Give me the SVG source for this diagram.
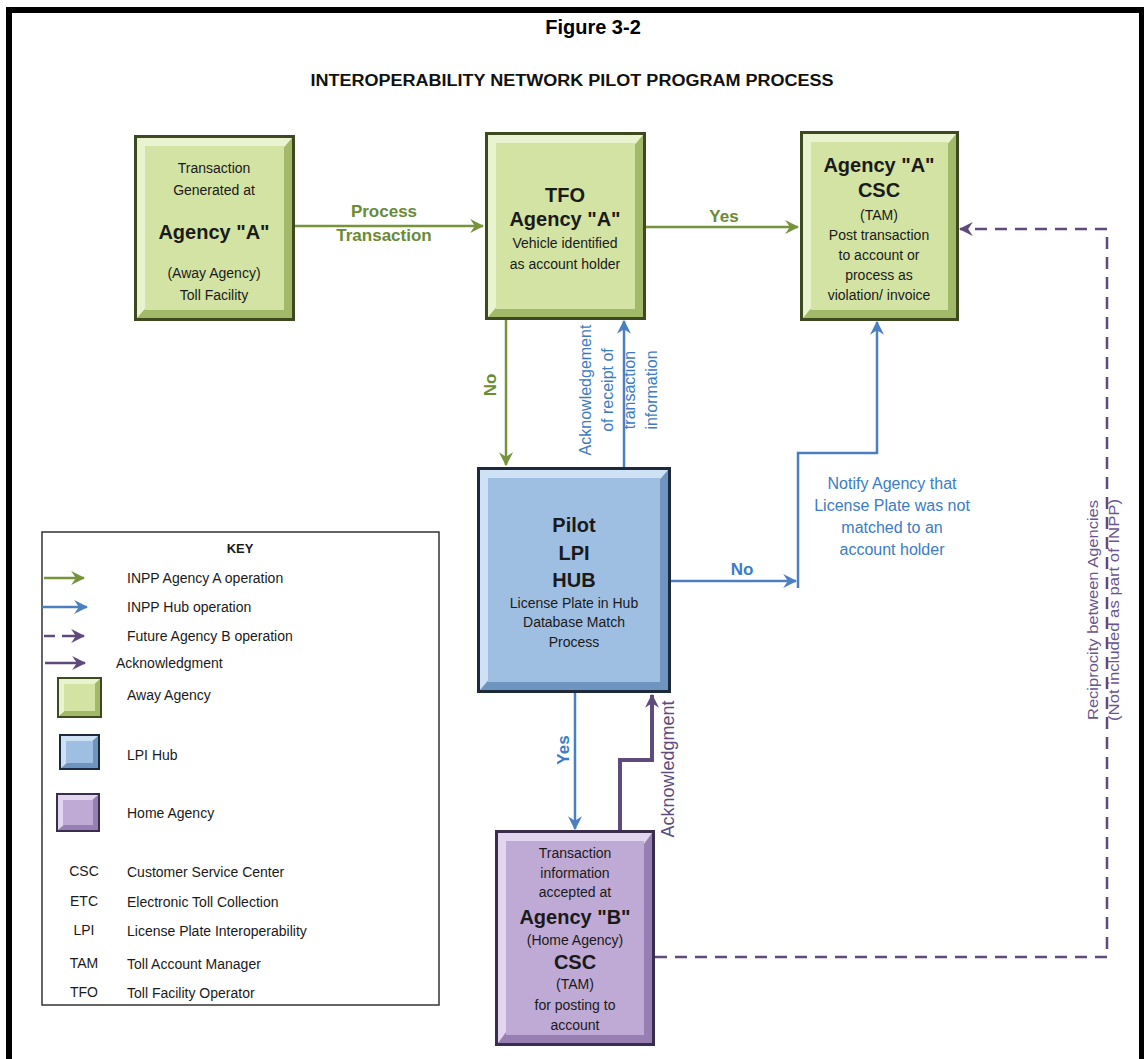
<svg xmlns="http://www.w3.org/2000/svg" width="1144" height="1059" viewBox="0 0 1144 1059">
<defs>
<style>
text{font-family:"Liberation Sans",Arial,sans-serif;}
.t{font-size:14px;fill:#1a1a1a;text-anchor:middle;}
.b{font-size:20px;font-weight:bold;fill:#1a1a1a;text-anchor:middle;}
.k{font-size:14px;fill:#1a1a1a;}
.ka{font-size:14px;fill:#1a1a1a;text-anchor:middle;}
.gl{font-size:17px;font-weight:bold;fill:#6a8a34;text-anchor:middle;}
.bl{font-size:16px;fill:#3b7cc4;text-anchor:middle;}
.blb{font-size:17px;font-weight:bold;fill:#3b7cc4;text-anchor:middle;}
.pl{font-size:18px;fill:#5e4a7e;text-anchor:middle;}
.pr{font-size:15px;fill:#6a5590;text-anchor:middle;}
.green{stroke:#77933c;stroke-width:2.5;fill:none;}
.blue{stroke:#4a80c0;stroke-width:2.5;fill:none;}
.purple{stroke:#604a7b;stroke-width:4;fill:none;}
.dash{stroke:#604a7b;stroke-width:2.5;fill:none;stroke-dasharray:12 8;}
.gO{fill:#3d4a1f;} .gL{fill:#eaf3cf;} .gD{fill:#a3b96a;} .gF{fill:#d3e3a3;}
.bO{fill:#1c2a3c;} .bL{fill:#cfe1f4;} .bD{fill:#6e94c0;} .bF{fill:#9ebfe2;}
.pO{fill:#3b2d4c;} .pL{fill:#e2d6ee;} .pD{fill:#977fb3;} .pF{fill:#bfa9d5;}
</style>
<marker id="ag" viewBox="0 0 12 12" refX="11" refY="6" markerWidth="14" markerHeight="14" markerUnits="userSpaceOnUse" orient="auto"><path d="M0,0 L12,6 L0,12 L4,6 Z" fill="#77933c"/></marker>
<marker id="ab" viewBox="0 0 12 12" refX="11" refY="6" markerWidth="14" markerHeight="14" markerUnits="userSpaceOnUse" orient="auto"><path d="M0,0 L12,6 L0,12 L4,6 Z" fill="#4a80c0"/></marker>
<marker id="ap" viewBox="0 0 12 12" refX="11" refY="6" markerWidth="14" markerHeight="14" markerUnits="userSpaceOnUse" orient="auto"><path d="M0,0 L12,6 L0,12 L4,6 Z" fill="#604a7b"/></marker>
</defs>

<rect x="0" y="0" width="1144" height="1059" fill="#ffffff"/>
<rect x="9" y="10" width="1133" height="1070" fill="none" stroke="#000" stroke-width="6"/>

<text x="593" y="34" style="font-size:20px;font-weight:bold;text-anchor:middle;fill:#000">Figure 3-2</text>
<text x="572" y="86" textLength="523" lengthAdjust="spacingAndGlyphs" style="font-size:16px;font-weight:bold;text-anchor:middle;fill:#111">INTEROPERABILITY NETWORK PILOT PROGRAM PROCESS</text>

<g id="connectors">
<path class="green" d="M294,226 H483" marker-end="url(#ag)"/>
<path class="green" d="M646,227 H798" marker-end="url(#ag)"/>
<path class="green" d="M506,320 V465" marker-end="url(#ag)"/>
<path class="blue" d="M624,467 V321" marker-end="url(#ab)"/>
<path class="blue" d="M671,581 H796" marker-end="url(#ab)"/>
<path class="blue" d="M798,588 V453 H877 V322" marker-end="url(#ab)"/>
<path class="blue" d="M575,693 V829" marker-end="url(#ab)"/>
<path class="purple" d="M620,830 V760 H652 V695" marker-end="url(#ap)"/>
<path class="dash" d="M655,957 H1107 V229 H960" marker-end="url(#ap)"/>

<text class="gl" x="384" y="217">Process</text>
<text class="gl" x="384" y="241">Transaction</text>
<text class="gl" x="724" y="222">Yes</text>
<text class="gl" transform="translate(490,385) rotate(-90)" dy="6">No</text>
<g transform="translate(618,390) rotate(-90)">
<text class="bl" x="0" y="-27">Acknowledgement</text>
<text class="bl" x="0" y="-5">of receipt of</text>
<text class="bl" x="0" y="17">transaction</text>
<text class="bl" x="0" y="39">information</text>
</g>
<text class="blb" x="742" y="575">No</text>
<text class="bl" x="892" y="489">Notify Agency that</text>
<text class="bl" x="892" y="511">License Plate was not</text>
<text class="bl" x="892" y="533">matched to an</text>
<text class="bl" x="892" y="555">account holder</text>
<text class="blb" transform="translate(563,750) rotate(-90)" dy="6">Yes</text>
<text class="pl" transform="translate(668,769) rotate(-90)" dy="6">Acknowledgment</text>
<g transform="translate(1104,610) rotate(-90)">
<text class="pr" x="0" y="-6" textLength="220" lengthAdjust="spacingAndGlyphs">Reciprocity between Agencies</text>
<text class="pr" x="0" y="15" textLength="222" lengthAdjust="spacingAndGlyphs">(Not included as part of INPP)</text>
</g>
</g>

<g id="node-transaction-generated">
<rect class="gO" x="134" y="135" width="161" height="186"/>
<rect class="gL" x="137" y="138" width="155" height="180"/>
<polygon class="gD" points="137,318 292,318 292,138"/>
<rect class="gF" x="145" y="146" width="139" height="164"/>
<text class="t" x="214" y="173">Transaction</text>
<text class="t" x="214" y="195">Generated at</text>
<text class="b" x="214" y="239">Agency "A"</text>
<text class="t" x="214" y="278">(Away Agency)</text>
<text class="t" x="214" y="300">Toll Facility</text>
</g>

<g id="node-tfo">
<rect class="gO" x="485" y="132" width="161" height="188"/>
<rect class="gL" x="488" y="135" width="155" height="182"/>
<polygon class="gD" points="488,317 643,317 643,135"/>
<rect class="gF" x="496" y="143" width="139" height="166"/>
<text class="b" x="565" y="202">TFO</text>
<text class="b" x="565" y="226">Agency "A"</text>
<text class="t" x="565" y="248">Vehicle identified</text>
<text class="t" x="565" y="269">as account holder</text>
</g>

<g id="node-csc-a">
<rect class="gO" x="800" y="131" width="159" height="190"/>
<rect class="gL" x="803" y="134" width="153" height="184"/>
<polygon class="gD" points="803,318 956,318 956,134"/>
<rect class="gF" x="811" y="142" width="137" height="168"/>
<text class="b" x="879" y="172">Agency "A"</text>
<text class="b" x="879" y="197">CSC</text>
<text class="t" x="879" y="220">(TAM)</text>
<text class="t" x="879" y="240">Post transaction</text>
<text class="t" x="879" y="260">to account or</text>
<text class="t" x="879" y="280">process as</text>
<text class="t" x="879" y="300">violation/ invoice</text>
</g>

<g id="node-hub">
<rect class="bO" x="477" y="467" width="194" height="226"/>
<rect class="bL" x="480" y="470" width="188" height="220"/>
<polygon class="bD" points="480,690 668,690 668,470"/>
<rect class="bF" x="488" y="478" width="172" height="204"/>
<text class="b" x="574" y="532">Pilot</text>
<text class="b" x="574" y="560">LPI</text>
<text class="b" x="574" y="587">HUB</text>
<text class="t" x="574" y="608">License Plate in Hub</text>
<text class="t" x="574" y="627">Database Match</text>
<text class="t" x="574" y="647">Process</text>
</g>

<g id="node-agency-b">
<rect class="pO" x="495" y="830" width="160" height="216"/>
<rect class="pL" x="498" y="833" width="154" height="210"/>
<polygon class="pD" points="498,1043 652,1043 652,833"/>
<rect class="pF" x="506" y="841" width="138" height="194"/>
<text class="t" x="575" y="858">Transaction</text>
<text class="t" x="575" y="878">information</text>
<text class="t" x="575" y="897">accepted at</text>
<text class="b" x="575" y="924">Agency "B"</text>
<text class="t" x="575" y="945">(Home Agency)</text>
<text class="b" x="575" y="969">CSC</text>
<text class="t" x="575" y="989">(TAM)</text>
<text class="t" x="575" y="1010">for posting to</text>
<text class="t" x="575" y="1030">account</text>
</g>

<g id="key">
<rect x="42" y="532" width="397" height="473" fill="#fff" stroke="#333" stroke-width="1.5"/>
<text x="240" y="553" style="font-size:13px;font-weight:bold;text-anchor:middle;fill:#1a1a1a">KEY</text>
<path class="green" d="M44,578 H84" marker-end="url(#ag)"/>
<text class="k" x="127" y="583">INPP Agency A operation</text>
<path class="blue" d="M42,607 H87" marker-end="url(#ab)"/>
<text class="k" x="127" y="612">INPP Hub operation</text>
<path d="M44,636 H55" stroke="#604a7b" stroke-width="2.5"/>
<path d="M62,636 H84" stroke="#604a7b" stroke-width="2.5" marker-end="url(#ap)"/>
<text class="k" x="127" y="641">Future Agency B operation</text>
<path d="M45,663 H85" stroke="#604a7b" stroke-width="2.5" marker-end="url(#ap)"/>
<text class="k" x="116" y="668">Acknowledgment</text>
<rect class="gO" x="57" y="677" width="45" height="41"/>
<rect class="gL" x="59" y="679" width="41" height="37"/>
<polygon class="gD" points="59,716 100,716 100,679"/>
<rect class="gF" x="64" y="684" width="31" height="27"/>
<text class="k" x="127" y="700">Away Agency</text>
<rect class="bO" x="59" y="734" width="41" height="36"/>
<rect class="bL" x="61" y="736" width="37" height="32"/>
<polygon class="bD" points="61,768 98,768 98,736"/>
<rect class="bF" x="66" y="741" width="27" height="22"/>
<text class="k" x="127" y="760">LPI Hub</text>
<rect class="pO" x="56" y="793" width="44" height="39"/>
<rect class="pL" x="58" y="795" width="40" height="35"/>
<polygon class="pD" points="58,830 98,830 98,795"/>
<rect class="pF" x="63" y="800" width="30" height="25"/>
<text class="k" x="127" y="818">Home Agency</text>
<text class="ka" x="84" y="876">CSC</text>
<text class="k" x="127" y="877">Customer Service Center</text>
<text class="ka" x="84" y="906">ETC</text>
<text class="k" x="127" y="907">Electronic Toll Collection</text>
<text class="ka" x="84" y="935">LPI</text>
<text class="k" x="127" y="936">License Plate Interoperability</text>
<text class="ka" x="84" y="968">TAM</text>
<text class="k" x="127" y="969">Toll Account Manager</text>
<text class="ka" x="84" y="997">TFO</text>
<text class="k" x="127" y="998">Toll Facility Operator</text>
</g>
</svg>
